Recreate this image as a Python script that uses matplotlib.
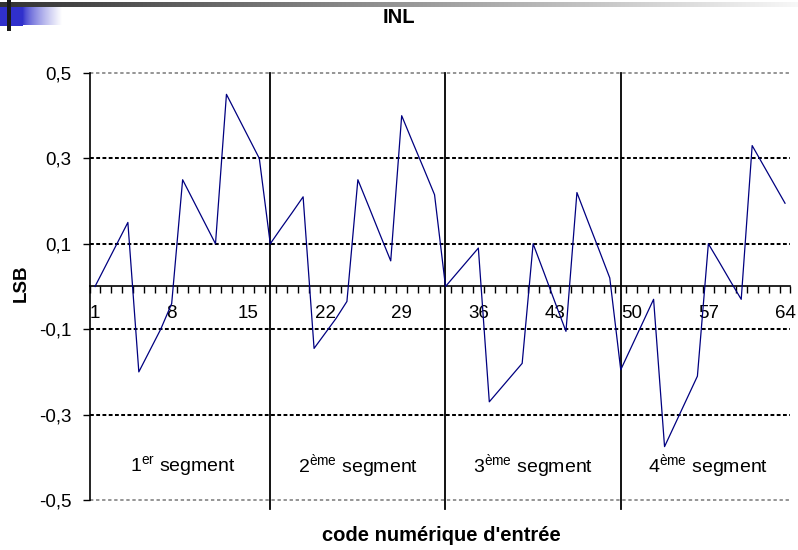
import numpy as np
import matplotlib
matplotlib.use("Agg")
import matplotlib.pyplot as plt

plt.rcParams.update({
    "font.family": ["Liberation Sans", "DejaVu Sans"],
    "mathtext.fontset": "custom",
    "mathtext.rm": "Liberation Sans",
    "mathtext.it": "Liberation Sans:italic",
    "mathtext.bf": "Liberation Sans:bold",
})

NAVY = "#000080"

# INL in LSB, codes 1..64
codes = np.arange(1, 65)
inl = [
    0.00, 0.05, 0.10, 0.15, -0.20, -0.15, -0.10, -0.04,
    0.25, 0.20, 0.15, 0.10, 0.45, 0.40, 0.35, 0.30,
    0.10, 0.137, 0.173, 0.21, -0.145, -0.11, -0.075, -0.035,
    0.25, 0.187, 0.123, 0.06, 0.40, 0.338, 0.277, 0.215,
    0.00, 0.03, 0.06, 0.09, -0.27, -0.24, -0.21, -0.18,
    0.10, 0.032, -0.037, -0.105, 0.22, 0.153, 0.087, 0.02,
    -0.195, -0.14, -0.085, -0.03, -0.375, -0.32, -0.265, -0.21,
    0.10, 0.057, 0.013, -0.03, 0.33, 0.285, 0.24, 0.195,
]
xtick_vals = [1, 8, 15, 22, 29, 36, 43, 50, 57, 64]
ytick_vals = [-0.5, -0.3, -0.1, 0.1, 0.3, 0.5]
ytick_labels = ["-0,5", "-0,3", "-0,1", "0,1", "0,3", "0,5"]
seg_bounds = [17, 33, 49]
seg_labels = [r"1$^{\mathrm{er}}$ segment", r"2$^{\mathrm{ème}}$ segment",
              r"3$^{\mathrm{ème}}$ segment", r"4$^{\mathrm{ème}}$ segment"]
seg_centers = [9, 25, 41, 57]

fig = plt.figure(figsize=(7.98, 5.5), dpi=100)

# slide decoration (top-left corner)
deco = fig.add_axes([0, 0, 1, 1], zorder=0)
deco.set_xlim(0, 798)
deco.set_ylim(550, 0)
deco.axis("off")
grad = np.linspace(0, 1, 256)[None, :]
bar_cols = np.zeros((1, 256, 3))
for i in range(3):
    bar_cols[0, :, i] = 0.2 + (0.97 - 0.2) * grad[0]
deco.imshow(bar_cols, extent=(0, 798, 7, 2), aspect="auto", interpolation="bilinear")
blue = np.array([0.19, 0.19, 0.80])
fade = np.zeros((1, 256, 3))
for i in range(3):
    fade[0, :, i] = blue[i] + (1 - blue[i]) * grad[0] ** 0.7
deco.imshow(fade, extent=(23, 62, 25, 7), aspect="auto", interpolation="bilinear")
deco.add_patch(plt.Rectangle((0, 7), 23, 19, color=blue, lw=0))
deco.add_patch(plt.Rectangle((7, 0), 4, 31, color="#1a1a1a", lw=0))

ax = fig.add_axes([0.1122, 0.0909, 0.8784, 0.7764], zorder=1)
ax.set_facecolor("none")
ax.set_xlim(0.5, 64.5)
ax.set_ylim(-0.5, 0.5)

for y in (0.1, 0.3, -0.1, -0.3):
    ax.axhline(y, color="black", lw=1.45, linestyle=(0, (1.9, 1.2)), zorder=1)
for y in (0.5, -0.5):
    ax.axhline(y, color="#8c8c8c", lw=1.3, linestyle=(0, (1.85, 1.5)), zorder=1, clip_on=False)

for xb in seg_bounds:
    ax.plot([xb, xb], [0.5, -0.52], color="black", lw=1.3, clip_on=False, zorder=2)

ax.plot(codes, inl, color=NAVY, lw=0.9, zorder=3)

for xc, lab in zip(seg_centers, seg_labels):
    ax.text(xc, -0.42, lab, ha="center", va="center", fontsize=14)

for side in ("top", "right"):
    ax.spines[side].set_visible(False)
ax.spines["bottom"].set_position(("data", 0))
ax.spines["bottom"].set_linewidth(1.2)
ax.spines["left"].set_linewidth(1.2)
ax.spines["left"].set_bounds(-0.5, 0.5)

ax.set_xticks(xtick_vals)
ax.set_xticks(np.arange(0.5, 65, 1), minor=True)
ax.tick_params(axis="x", which="major", length=0, pad=13, labelsize=13.5)
ax.tick_params(axis="x", which="minor", length=5, width=1, direction="out")
ax.set_yticks(ytick_vals)
ax.set_yticklabels(ytick_labels)
ax.tick_params(axis="y", length=5, width=1, pad=8, labelsize=13.5)

fig.text(0.5, 0.968, "INL", ha="center", va="center", fontsize=14.5, fontweight="bold")
fig.text(0.027, 0.485, "LSB", ha="center", va="center", rotation=90,
         fontsize=13.5, fontweight="bold")
fig.text(0.553, 0.027, "code numérique d'entrée", ha="center", va="center",
         fontsize=14.5, fontweight="bold")

fig.savefig("out.png", dpi=100)
